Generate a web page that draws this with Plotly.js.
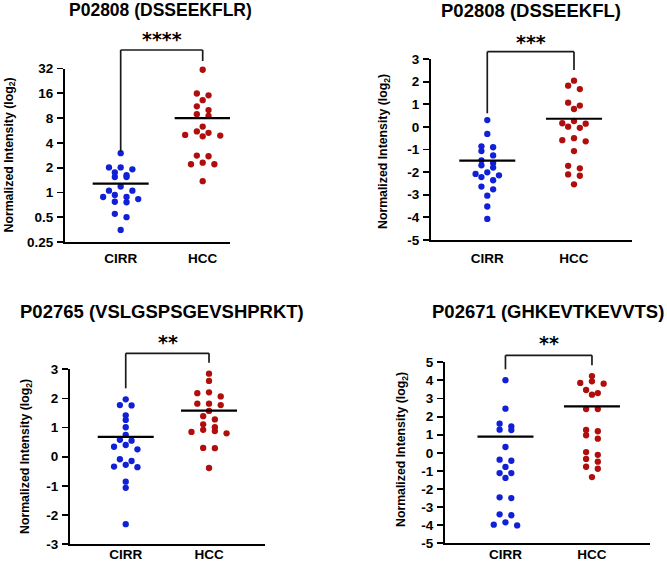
<!DOCTYPE html>
<html>
<head>
<meta charset="utf-8">
<script src="https://cdn.plot.ly/plotly-3.0.1.min.js"></script>
<style>
  html, body { margin: 0; padding: 0; background: #ffffff; }
  #chart { width: 667px; height: 566px; }
</style>
</head>
<body>
<div id="chart"></div>
<script>
const W = 667, H = 566;
const groups = ['CIRR', 'HCC'];

// P02808 (DSSEEKFLR) - normalized intensity, plotted on a log2 axis
const flrCirr = [3.0, 1.75, 1.54, 2.01, 1.62, 1.91, 1.54, 2.01, 1.18, 1.05, 1.05, 0.93, 0.83, 0.88, 0.88, 0.76, 0.77, 0.50, 0.55, 0.35];
const flrHcc = [30.9, 15.1, 15.9, 13.2, 11.1, 10.0, 8.9, 8.5, 5.3, 4.9, 5.0, 4.8, 6.3, 5.5, 2.75, 2.8, 2.3, 2.2, 2.2, 1.37];
const flrMeans = [1.28, 8.0];
const flrTicks = [0.25, 0.5, 1, 2, 4, 8, 16, 32];

// P02808 (DSSEEKFL) - log2 normalized intensity
const flCirr = [0.30, -0.31, -0.86, -0.90, -1.07, -1.26, -1.60, -1.48, -1.70, -2.01, -1.80, -2.14, -2.08, -2.36, -2.22, -2.64, -2.76, -3.04, -3.52, -4.07];
const flHcc = [2.04, 1.82, 1.67, 0.94, 1.07, 0.79, 0.14, 0.26, -0.04, 0.01, 0.16, -0.64, -0.59, -0.50, -1.07, -1.72, -1.83, -2.10, -2.16, -2.54];
const flMeans = [-1.49, 0.36];
const flTicks = [-5, -4, -3, -2, -1, 0, 1, 2, 3];

// P02765 (VSLGSPSGEVSHPRKT) - log2 normalized intensity
const rktCirr = [1.97, 1.76, 1.77, 1.42, 1.26, 1.01, 0.75, 0.55, 0.58, 0.25, 0.34, 0.40, -0.09, -0.28, -0.15, -0.34, -0.36, -0.86, -1.07, -2.32];
const rktHcc = [2.85, 2.60, 2.21, 2.18, 2.07, 1.82, 1.82, 1.77, 1.57, 1.28, 1.39, 0.92, 0.85, 1.01, 0.80, 1.11, 0.88, 0.30, 0.29, -0.39];
const rktMeans = [0.68, 1.58];
const rktTicks = [-3, -2, -1, 0, 1, 2, 3];

// P02671 (GHKEVTKEVVTS) - log2 normalized intensity
const vtsCirr = [4.01, 2.44, 1.61, 1.28, 1.46, 1.26, 0.32, -0.44, -0.38, -0.78, -1.12, -1.12, -1.39, -2.46, -2.50, -3.40, -3.45, -3.84, -4.01, -3.97];
const vtsHcc = [4.24, 3.82, 3.95, 3.86, 3.47, 3.21, 3.30, 2.42, 2.42, 1.19, 0.97, 1.26, 0.78, 0.04, -0.11, -0.49, -0.34, -0.77, -0.88, -1.34];
const vtsMeans = [0.89, 2.57];
const vtsTicks = [-5, -4, -3, -2, -1, 0, 1, 2, 3, 4, 5];

const BLUE = '#1020d6';
const RED = '#b00d0d';
const INK = '#000000';
const FONT = 'Liberation Sans, Arial, Helvetica, sans-serif';

// Panel frames in pixels; the x range places CIRR at 0 and HCC at 1.
const panels = [
  { title: 'P02808 (DSSEEKFLR)', stars: '****', cirr: flrCirr, hcc: flrHcc, means: flrMeans, ticks: flrTicks, log: true,
    box: { l: 65, r: 230, t: 68.5, b: 242 }, xr: [-0.679, 1.333], yr: [0.25, 32],
    titlePos: [160, 9.5, 17.5], yTitlePos: [9.5, 155], starPos: [162, 39], bracket: [50, 152, 61], standoff: 3 },
  { title: 'P02808 (DSSEEKFL)', stars: '***', cirr: flCirr, hcc: flHcc, means: flMeans, ticks: flTicks, log: false,
    box: { l: 431, r: 632, t: 59, b: 240 }, xr: [-0.649, 1.669], yr: [-5, 3],
    titlePos: [530.5, 10, 18.5], yTitlePos: [384, 151], starPos: [531, 42], bracket: [51.7, 113.3, 70], standoff: 5 },
  { title: 'P02765 (VSLGSPSGEVSHPRKT)', stars: '**', cirr: rktCirr, hcc: rktHcc, means: rktMeans, ticks: rktTicks, log: false,
    box: { l: 70, r: 265, t: 369.3, b: 544 }, xr: [-0.669, 1.672], yr: [-3, 3],
    titlePos: [161.7, 311, 18.5], yTitlePos: [26, 457], starPos: [167.5, 341.7], bracket: [353.3, 388.3, 362.7], standoff: -3 },
  { title: 'P02671 (GHKEVTKEVVTS)', stars: '**', cirr: vtsCirr, hcc: vtsHcc, means: vtsMeans, ticks: vtsTicks, log: false,
    box: { l: 445, r: 650, t: 362.3, b: 543.3 }, xr: [-0.699, 1.671], yr: [-5, 5],
    titlePos: [547.5, 311, 18.5], yTitlePos: [402, 450], starPos: [549, 343], bracket: [355.3, 369.3, 365.3], standoff: -3 }
];

const px2x = px => px / W;
const px2y = py => 1 - py / H;
const bold = s => '<b>' + s + '</b>';

// Scatter-dot spreading: points that sit close vertically share a row,
// and each row is laid out centred on the group position.
function spread(values, toPx, step, rowPx) {
  const order = values.map((v, i) => i).sort((a, b) => values[b] - values[a]);
  const off = new Array(values.length).fill(0);
  let i = 0;
  while (i < order.length) {
    const start = toPx(values[order[i]]);
    const row = [order[i]];
    let j = i + 1;
    while (j < order.length && Math.abs(toPx(values[order[j]]) - start) < rowPx) { row.push(order[j]); j++; }
    const n = row.length;
    const slots = [];
    for (let k = 0; k < n; k++) slots.push(k - (n - 1) / 2);
    slots.sort((a, b) => Math.abs(a) - Math.abs(b) || a - b);
    row.forEach((r, k) => { off[r] = slots[k] * step; });
    i = j;
  }
  return off;
}

const data = [];
const layout = {
  width: W, height: H,
  margin: { l: 0, r: 0, t: 0, b: 0 },
  paper_bgcolor: '#ffffff', plot_bgcolor: '#ffffff',
  showlegend: false,
  font: { family: FONT, color: INK },
  annotations: [], shapes: []
};

panels.forEach((p, k) => {
  const n = k + 1;
  const xa = 'x' + (n === 1 ? '' : n), ya = 'y' + (n === 1 ? '' : n);
  const xKey = 'xaxis' + (n === 1 ? '' : n), yKey = 'yaxis' + (n === 1 ? '' : n);
  const wPx = p.box.r - p.box.l, hPx = p.box.b - p.box.t;
  const pxPerX = wPx / (p.xr[1] - p.xr[0]);
  const yLo = p.log ? Math.log2(p.yr[0]) : p.yr[0];
  const yHi = p.log ? Math.log2(p.yr[1]) : p.yr[1];
  const pxPerY = hPx / (yHi - yLo);
  const toPx = v => (p.log ? Math.log2(v) : v) * pxPerY;
  const step = 11.7 / pxPerX;
  const halfLine = 28 / pxPerX;

  [[p.cirr, 0, BLUE], [p.hcc, 1, RED]].forEach(([vals, c, col]) => {
    const off = spread(vals, toPx, step, 4.5);
    data.push({
      type: 'scatter', mode: 'markers', xaxis: xa, yaxis: ya,
      x: vals.map((v, i) => c + off[i]), y: vals,
      marker: { color: col, size: 6.3, line: { width: 0 } },
      hoverinfo: 'y', cliponaxis: false
    });
  });
  p.means.forEach((m, c) => {
    data.push({
      type: 'scatter', mode: 'lines', xaxis: xa, yaxis: ya,
      x: [c - halfLine, c + halfLine], y: [m, m],
      line: { color: INK, width: 2.2 }, hoverinfo: 'skip', cliponaxis: false
    });
  });

  layout[xKey] = {
    domain: [px2x(p.box.l), px2x(p.box.r)], range: p.xr, anchor: ya,
    tickvals: [0, 1], ticktext: groups.map(bold), ticks: '', showgrid: false, zeroline: false,
    showline: true, linecolor: INK, linewidth: 2,
    tickfont: { family: FONT, size: 13.5, weight: 'bold', color: INK },
    ticklabelstandoff: p.standoff, fixedrange: true
  };
  layout[yKey] = {
    domain: [px2y(p.box.b), px2y(p.box.t)], anchor: xa,
    type: p.log ? 'log' : 'linear',
    range: p.log ? [Math.log10(p.yr[0]), Math.log10(p.yr[1])] : p.yr,
    tickvals: p.ticks, ticktext: p.ticks.map(v => bold(String(v))),
    ticks: 'outside', ticklen: 6, tickwidth: 1.8, tickcolor: INK,
    showgrid: false, zeroline: false, showline: true, linecolor: INK, linewidth: 2,
    tickfont: { family: FONT, size: 13.5, weight: 'bold', color: INK },
    ticklabelstandoff: 1, fixedrange: true
  };

  // panel title
  layout.annotations.push({
    xref: 'paper', yref: 'paper', x: px2x(p.titlePos[0]), y: px2y(p.titlePos[1]),
    xanchor: 'center', yanchor: 'middle', showarrow: false, borderpad: 0, text: bold(p.title),
    font: { family: FONT, size: p.titlePos[2], weight: 'bold', color: INK }
  });
  // y-axis title
  layout.annotations.push({
    xref: 'paper', yref: 'paper', x: px2x(p.yTitlePos[0]), y: px2y(p.yTitlePos[1]),
    xanchor: 'center', yanchor: 'middle', showarrow: false, textangle: -90, borderpad: 0,
    text: bold('Normalized Intensity (log<sub>2</sub>)'),
    font: { family: FONT, size: 12.3, weight: 'bold', color: INK }
  });
  // significance stars
  layout.annotations.push({
    xref: 'paper', yref: 'paper', x: px2x(p.starPos[0]), y: px2y(p.starPos[1]),
    xanchor: 'center', yanchor: 'middle', showarrow: false, borderpad: 0, text: p.stars,
    font: { family: 'DejaVu Sans, sans-serif', size: 19, weight: 'bold', color: INK }
  });
  // comparison bracket between the two groups
  const [top, leftEnd, rightEnd] = p.bracket;
  const bl = { color: '#1a1a1a', width: 1.7 };
  layout.shapes.push(
    { type: 'line', xref: xa, yref: 'paper', x0: 0, x1: 1, y0: px2y(top), y1: px2y(top), line: bl },
    { type: 'line', xref: xa, yref: 'paper', x0: 0, x1: 0, y0: px2y(top), y1: px2y(leftEnd), line: bl },
    { type: 'line', xref: xa, yref: 'paper', x0: 1, x1: 1, y0: px2y(top), y1: px2y(rightEnd), line: bl }
  );
});

Plotly.newPlot('chart', data, layout, { displayModeBar: false, staticPlot: true });
</script>
</body>
</html>
